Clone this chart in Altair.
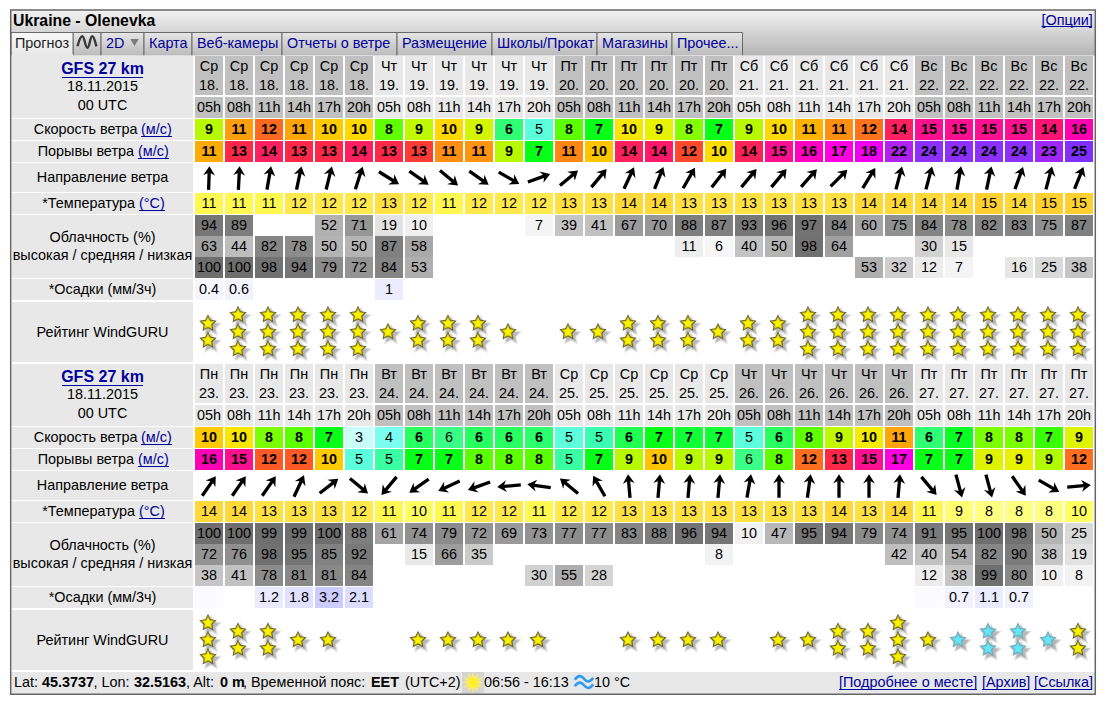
import math
import altair as alt
import pandas as pd

# ------------------------------ data ------------------------------
days_a = ["Ср", "Чт", "Пт", "Сб", "Вс"]
dates_a = ["18.", "19.", "20.", "21.", "22."]
days_b = ["Пн", "Вт", "Ср", "Чт", "Пт"]
dates_b = ["23.", "24.", "25.", "26.", "27."]
hours = ["05h", "08h", "11h", "14h", "17h", "20h"]

wind_a = [8.9, 10.9, 12.0, 10.8, 10.2, 10.0, 8.0, 9.0, 10.0, 9.2, 5.8, 5.0, 7.9, 7.0, 9.7, 9.4, 8.3, 7.0,
          8.9, 10.0, 10.6, 11.2, 11.8, 14.0, 15.0, 15.0, 15.0, 15.0, 14.4, 15.7]
gust_a = [10.7, 13.0, 14.0, 13.0, 13.0, 14.0, 13.0, 12.6, 11.2, 11.1, 8.9, 7.0, 11.4, 10.3, 13.8, 14.2, 12.4, 9.9,
          13.6, 15.0, 16.0, 17.0, 18.0, 22.0, 24.0, 24.0, 24.0, 24.0, 23.0, 25.0]
dir_a = [2, 3, 10, 12, 14, 18, 122, 125, 130, 125, 120, 70, 50, 40, 25, 22, 30, 38,
         40, 40, 42, 45, 32, 15, 15, 10, 12, 20, 15, 22]
temp_a = [11, 11, 11, 12, 12, 12, 13, 12, 11, 12, 12, 12, 13, 13, 14, 14, 13, 13,
          13, 13, 13, 13, 14, 14, 14, 14, 15, 14, 15, 15]
high_a = [94, 89, None, None, 52, 71, 19, 10, None, None, None, 7, 39, 41, 67, 70, 88, 87,
          93, 96, 97, 84, 60, 75, 84, 78, 82, 83, 75, 87]
mid_a = [63, 44, 82, 78, 50, 50, 87, 58, None, None, None, None, None, None, None, None, 11, 6,
         40, 50, 98, 64, None, None, 30, 15, None, None, None, None]
low_a = [100, 100, 98, 94, 79, 72, 84, 53, None, None, None, None, None, None, None, None, None, None,
         None, None, None, None, 53, 32, 12, 7, None, 16, 25, 38]
rain_a = [0.4, 0.6, None, None, None, None, 1, None, None, None, None, None, None, None, None, None, None, None,
          None, None, None, None, None, None, None, None, None, None, None, None]
stars_a = [2, 3, 3, 3, 3, 3, 1, 2, 2, 2, 1, 0, 1, 1, 2, 2, 2, 1, 2, 2, 3, 3, 3, 3, 3, 3, 3, 3, 3, 3]

wind_b = [10.2, 9.7, 8.2, 7.9, 7.0, 3.0, 4.0, 6.0, 5.6, 6.0, 6.0, 5.9, 5.0, 5.3, 6.3, 7.0, 6.7, 6.7,
          5.0, 6.0, 8.0, 9.0, 9.6, 10.8, 5.8, 6.9, 8.2, 8.2, 7.4, 9.3]
gust_b = [15.8, 15.0, 12.2, 12.2, 10.2, 5.0, 5.4, 7.0, 7.0, 7.9, 7.9, 7.9, 5.4, 7.0, 8.9, 10.3, 8.9, 8.9,
          5.6, 8.0, 11.9, 13.0, 15.0, 17.0, 7.0, 7.0, 9.3, 9.4, 8.8, 11.9]
dir_b = [35, 35, 35, 25, 52, 130, 220, 235, 245, 250, 265, 278, 310, 330, 355, 5, 5, 5,
         10, 0, 8, 0, 0, 5, 140, 165, 165, 145, 120, 85]
temp_b = [14, 14, 13, 13, 13, 12, 11, 10, 11, 12, 12, 11, 12, 12, 13, 13, 13, 13,
          13, 13, 13, 14, 13, 14, 11, 9, 8, 8, 8, 10]
high_b = [100, 100, 99, 99, 100, 88, 61, 74, 79, 72, 69, 73, 77, 77, 83, 88, 96, 94,
          10, 47, 95, 94, 79, 74, 91, 95, 100, 98, 50, 25]
mid_b = [72, 76, 98, 95, 85, 92, None, 15, 66, 35, None, None, None, None, None, None, None, 8,
         None, None, None, None, None, 42, 40, 54, 82, 90, 38, 19]
low_b = [38, 41, 78, 81, 81, 84, None, None, None, None, None, 30, 55, 28, None, None, None, None,
         None, None, None, None, None, None, 12, 38, 99, 80, 10, 8]
rain_b = [0.1, None, 1.2, 1.8, 3.2, 2.1, None, None, None, None, None, None, None, None, None, None, None, None,
          None, None, None, None, None, None, 0.1, 0.7, 1.1, 0.7, None, None]
stars_b = [3, 2, 2, 1, 1, 0, 0, 1, 1, 1, 1, 1, 0, 0, 1, 1, 1, 1, 0, 1, 1, 2, 2, 3, 1, 1, 2, 2, 1, 2]
weak_b = [25, 26, 27, 28]  # the pale blue ratings

tab_names = ["Прогноз", "", "2D", "Карта", "Веб-камеры", "Отчеты о ветре", "Размещение",
             "Школы/Прокат", "Магазины", "Прочее..."]

# ------------------------------ layout ------------------------------
W, H = 1102, 687
FONT = "Liberation Sans"
LINK = "#00009c"
TS = 14.4
xs = alt.Scale(domain=[8, 8 + W], nice=False, zero=False)
ys = alt.Scale(domain=[8, 8 + H], nice=False, zero=False, reverse=True)
X = alt.X("x0:Q", scale=xs, axis=None)
Y = alt.Y("y0:Q", scale=ys, axis=None)

COL0, PITCH, CW = 195, 30, 28
BANDS = {"day": (56, 95), "hour": (97, 118), "wind": (119, 140), "gust": (141, 162), "dir": (163, 192),
         "temp": (193, 214), "high": (215, 236), "mid": (236, 257), "low": (257, 278), "rain": (279, 300),
         "stars": (302, 362)}
OFFSET = 308


def col_x(i):
    return COL0 + PITCH * i


def cells(values, band, off, show=lambda v: True, digits=0):
    y0, y1 = BANDS[band]
    out = []
    for i, v in enumerate(values):
        if v is None:
            continue
        if digits:
            lab = (f"{v:.1f}".removesuffix(".0")) if show(v) else ""
        else:
            lab = str(int(round(v))) if show(v) else ""
        out.append(dict(x0=col_x(i), x1=col_x(i) + CW, y0=y0 + off, y1=y1 + off, v=v, label=lab,
                        cx=col_x(i) + CW / 2, cy=(y0 + y1) / 2 + off + 0.5))
    return pd.DataFrame(out)


def rect_box(x0, x1, y0, y1, **mark):
    df = pd.DataFrame([dict(x0=x0, x1=x1, y0=y0, y1=y1)])
    return alt.Chart(df).mark_rect(**mark).encode(x=X, x2="x1:Q", y=Y, y2="y1:Q")


def scaled_rects(df, field, scale):
    return alt.Chart(df).mark_rect().encode(
        x=X, x2="x1:Q", y=Y, y2="y1:Q",
        color=alt.Color(f"{field}:Q", scale=scale, legend=None))


def text_rows(rows, size=TS, weight="normal", color="#000000", align="center"):
    df = pd.DataFrame(rows, columns=["cx", "cy", "label"])
    return alt.Chart(df).mark_text(font=FONT, fontSize=size, fontWeight=weight, color=color, align=align,
                                   baseline="middle").encode(
        x=alt.X("cx:Q", scale=xs, axis=None), y=alt.Y("cy:Q", scale=ys, axis=None), text="label:N")


def rules(rows, color=LINK, width=1):
    df = pd.DataFrame(rows, columns=["x0", "x1", "y0"])
    return alt.Chart(df).mark_rule(color=color, strokeWidth=width).encode(x=X, x2="x1:Q", y=Y)


WIND_SCALE = alt.Scale(
    domain=[0, 3, 4, 5, 5.5, 6, 7, 7.5, 8, 9, 9.5, 10, 10.5, 11, 12, 12.5, 13, 14, 15, 16, 17, 18, 20, 22, 24, 26],
    range=["#ffffff", "#c8fffa", "#78fff0", "#5cffdc", "#40ff90", "#28ff60", "#08ff18", "#40ff00", "#60ff00",
           "#c0f800", "#f0f000", "#ffd800", "#ffb800", "#ff9810", "#ff6820", "#ff4030", "#ff2848", "#ff2060",
           "#ff1090", "#ff00c0", "#ff00e0", "#f000f0", "#c020e8", "#b020f0", "#8c30ff", "#7030ff"],
    nice=False, zero=False, clamp=True)
TEMP_SCALE = alt.Scale(domain=[8, 10, 11, 12, 13, 14, 15],
                       range=["#ffff80", "#ffff60", "#fff850", "#ffe94c", "#ffe144", "#ffd93a", "#ffd030"],
                       nice=False, zero=False)
CLOUD_SCALE = alt.Scale(domain=[0, 100], range=["#ffffff", "#6e6e6e"], nice=False, zero=False)
RAIN_SCALE = alt.Scale(domain=[0, 3.2], range=["#ffffff", "#ccccff"], nice=False, zero=False)
SHADE_SCALE = alt.Scale(domain=[0, 1], range=["#e8e8e8", "#c0c0c0"], nice=False, zero=False)

ARROW = "M0,-1 L0.5,-0.22 L0.14,-0.4 L0.14,1 L-0.14,1 L-0.14,-0.4 L-0.5,-0.22 Z"


def star_path(points, outer, inner):
    pts = []
    for k in range(points * 2):
        r = outer if k % 2 == 0 else inner
        a = math.pi * k / points
        pts.append(f"{r * math.sin(a):.3f},{-r * math.cos(a):.3f}")
    return "M" + " L".join(pts) + " Z"


STAR = star_path(5, 1, 0.5)
SUN = star_path(12, 1, 0.55)
WAVES = ("M-1,-0.3 C-0.6,-0.8 -0.3,-0.8 0,-0.4 C0.3,0 0.6,0 1,-0.5 "
         "M-1,0.4 C-0.6,-0.1 -0.3,-0.1 0,0.3 C0.3,0.7 0.6,0.7 1,0.2")
TAB_WAVE = ("M-1,0.45 C-0.85,-0.1 -0.7,-0.6 -0.5,-0.6 C-0.25,-0.6 -0.2,0.6 0.05,0.6 "
            "C0.3,0.6 0.3,-0.6 0.55,-0.6 C0.75,-0.6 0.85,0 1,0.45")


def point_at(df, shape, size, **mark):
    return alt.Chart(df).mark_point(shape=shape, size=size, **mark).encode(
        x=alt.X("cx:Q", scale=xs, axis=None), y=alt.Y("cy:Q", scale=ys, axis=None))


def star_layers(df, outline, fill, core):
    out = []
    for sz, op in [(620, 0.04), (520, 0.06), (430, 0.08), (340, 0.10), (260, 0.12)]:
        out.append(point_at(df, STAR, sz, filled=True, color="#303030", opacity=op, strokeWidth=0, xOffset=3, yOffset=3))
    out.append(point_at(df, STAR, 340, filled=True, color=outline, opacity=1, strokeWidth=0))
    out.append(point_at(df, STAR, 190, filled=True, color=fill, opacity=1, strokeWidth=0))
    out.append(point_at(df, STAR, 100, filled=True, color=core, opacity=1, strokeWidth=0))
    return out


def table_layers(days, dates, first_dark, wind, gust, dirs, temp, high, mid, low, rain, stars, weak, off):
    ls = []
    # heads
    for band in ["day", "hour"]:
        y0, y1 = BANDS[band]
        rows = [dict(x0=col_x(i), x1=col_x(i) + CW, y0=y0 + off, y1=y1 + off,
                     s=(i // 6 + first_dark) % 2) for i in range(30)]
        ls.append(scaled_rects(pd.DataFrame(rows), "s", SHADE_SCALE))
    ls.append(text_rows([(col_x(i) + CW / 2, 66.5 + off, days[i // 6]) for i in range(30)]))
    ls.append(text_rows([(col_x(i) + CW / 2, 85.5 + off, dates[i // 6]) for i in range(30)]))
    ls.append(text_rows([(col_x(i) + CW / 2, 107.5 + off, hours[i % 6]) for i in range(30)]))
    # wind and gusts
    for vals, band in [(wind, "wind"), (gust, "gust")]:
        df = cells(vals, band, off)
        ls.append(scaled_rects(df, "v", WIND_SCALE))
        ls.append(text_rows(df[df.v >= 5.7][["cx", "cy", "label"]].values.tolist(), weight="bold"))
        low_df = df[df.v < 5.7]
        if len(low_df):
            ls.append(text_rows(low_df[["cx", "cy", "label"]].values.tolist()))
    # direction
    y0, y1 = BANDS["dir"]
    adf = pd.DataFrame([dict(cx=col_x(i) + CW / 2, cy=(y0 + y1) / 2 + off + 0.5, a=d) for i, d in enumerate(dirs)])
    ls.append(alt.Chart(adf).mark_point(shape=ARROW, size=560, filled=True, color="#000000", opacity=1,
                                        strokeWidth=0).encode(
        x=alt.X("cx:Q", scale=xs, axis=None), y=alt.Y("cy:Q", scale=ys, axis=None),
        angle=alt.Angle("a:Q", scale=None)))
    # temperature
    df = cells(temp, "temp", off)
    ls.append(scaled_rects(df, "v", TEMP_SCALE))
    ls.append(text_rows(df[["cx", "cy", "label"]].values.tolist()))
    # clouds
    cdf = pd.concat([cells(v, b, off) for v, b in [(high, "high"), (mid, "mid"), (low, "low")]])
    ls.append(scaled_rects(cdf, "v", CLOUD_SCALE))
    ls.append(text_rows(cdf[["cx", "cy", "label"]].values.tolist()))
    # rain
    df = cells(rain, "rain", off, show=lambda v: v >= 0.2, digits=1)
    ls.append(scaled_rects(df, "v", RAIN_SCALE))
    ls.append(text_rows(df[df.label != ""][["cx", "cy", "label"]].values.tolist()))
    # stars
    y0, y1 = BANDS["stars"]
    mid_y = (y0 + y1) / 2 + off
    rows = []
    for i, n in enumerate(stars):
        for k in range(n):
            rows.append(dict(cx=col_x(i) + CW / 2 - 1, cy=mid_y + (k - (n - 1) / 2) * 17, weak=i in weak))
    sdf = pd.DataFrame(rows)
    ls += star_layers(sdf[~sdf.weak], "#6a6530", "#d8cc00", "#fff200")
    if sdf.weak.any():
        ls += star_layers(sdf[sdf.weak], "#7fa8b4", "#5fd0e6", "#66e6f6")
    # left labels
    lab = "#e8e8e8"
    for a, b in [("day", "hour"), ("wind", "wind"), ("gust", "gust"), ("dir", "dir"), ("temp", "temp"),
                 ("high", "low"), ("rain", "rain"), ("stars", "stars")]:
        ls.append(rect_box(12, 193, BANDS[a][0] + off, BANDS[b][1] + off, color=lab))
    cx = 102.5
    ls.append(text_rows([(cx, 68.5 + off, "GFS 27 km")], size=16, weight="bold", color=LINK))
    ls.append(rules([(62, 143, 77.5 + off)], width=1.2))
    ls.append(text_rows([(cx, 87 + off, "18.11.2015"), (cx, 105.5 + off, "00 UTC"),
                         (cx, 177.5 + off, "Направление ветра"),
                         (cx, 237.5 + off, "Облачность (%)"),
                         (cx, 255.5 + off, "высокая / средняя / низкая"),
                         (cx, 332.5 + off, "Рейтинг WindGURU"),
                         (cx, 290 + off, "*Осадки (мм/3ч)")]))
    ls.append(text_rows([(137.5, 129.5 + off, "Скорость ветра"), (134, 151.5 + off, "Порывы ветра"),
                         (135, 203.5 + off, "*Температура")], align="right"))
    ls.append(text_rows([(141, 129.5 + off, "(м/с)"), (138, 151.5 + off, "(м/с)"), (139, 203.5 + off, "(°C)")],
                        align="left", color=LINK))
    ls.append(rules([(141, 172, 136.5 + off), (138, 169, 158.5 + off), (139, 165, 210.5 + off)]))
    return ls


layers = []
# header gradient
head = alt.Gradient(gradient="linear", x1=0, x2=0, y1=0, y2=1,
                    stops=[alt.GradientStop(color="#f2f2f2", offset=0), alt.GradientStop(color="#b4b4b4", offset=1)])
layers.append(rect_box(11, 1095, 10, 56, color=head))
layers.append(text_rows([(13, 21, "Ukraine - Olenevka")], size=15.8, weight="bold", align="left"))
layers.append(text_rows([(1041.5, 20.5, "[Опции]")], color=LINK, align="left"))
layers.append(rules([(1041.5, 1092, 26.5)]))

# tabs
tab_edges = [11, 73, 101, 144, 192, 282, 397, 492, 597, 672, 742.5]
tab_fill = alt.Gradient(gradient="linear", x1=0, x2=0, y1=0, y2=1,
                        stops=[alt.GradientStop(color="#e6e6e6", offset=0), alt.GradientStop(color="#b6b6b6", offset=1)])
sel_fill = alt.Gradient(gradient="linear", x1=0, x2=0, y1=0, y2=1,
                        stops=[alt.GradientStop(color="#f8f8f8", offset=0), alt.GradientStop(color="#e6e6e6", offset=1)])
for i in range(1, 10):
    layers.append(rect_box(tab_edges[i], tab_edges[i + 1], 32.5, 58, color=tab_fill, stroke="#6a6a6a", strokeWidth=1))
layers.append(rect_box(tab_edges[0], tab_edges[1], 32.5, 58, color=sel_fill, stroke="#6a6a6a", strokeWidth=1))
layers.append(text_rows([(15, 43.5, tab_names[0])], color="#222222", align="left"))
layers.append(text_rows([(tab_edges[i] + 5, 43.5, tab_names[i]) for i in range(2, 10)], color=LINK, align="left"))
icon = pd.DataFrame([dict(cx=87, cy=42)])
layers.append(point_at(icon, TAB_WAVE, 360, filled=False, color="#3a3a3a", opacity=1, strokeWidth=2.4))
icon = pd.DataFrame([dict(cx=134.5, cy=42.5)])
layers.append(point_at(icon, "triangle-down", 70, filled=True, color="#7a7a7a", opacity=1, strokeWidth=0))

# table body
layers.append(rect_box(11, 1095, 55.5, 672, color="#ffffff"))
layers.append(rect_box(12, 73, 54, 56, color="#e8e8e8"))
layers += table_layers(days_a, dates_a, 1, wind_a, gust_a, dir_a, temp_a, high_a, mid_a, low_a, rain_a, stars_a, [], 0)
layers += table_layers(days_b, dates_b, 0, wind_b, gust_b, dir_b, temp_b, high_b, mid_b, low_b, rain_b, stars_b,
                       weak_b, OFFSET)

# footer
layers.append(rect_box(11, 1095, 672, 694, color="#e8e8e8"))
fy = 683
layers.append(text_rows([(14, fy, "Lat:"), (93.5, fy, ", Lon:"), (186, fy, ", Alt:"),
                         (243, fy, ", Временной пояс:"), (405, fy, "(UTC+2)"),
                         (484, fy, "06:56 - 16:13"), (594, fy, "10 °C")], align="left"))
layers.append(text_rows([(42, fy, "45.3737"), (134, fy, "32.5163"), (220, fy, "0 m"), (371, fy, "EET")],
                        weight="bold", align="left"))
layers.append(rect_box(462, 484, 672, 693, color="#d4d4d4"))
icon = pd.DataFrame([dict(cx=473, cy=682.5)])
layers.append(point_at(icon, SUN, 500, filled=True, color="#fff066", opacity=0.75, strokeWidth=0))
layers.append(point_at(icon, "circle", 130, filled=True, color="#ffee33", opacity=1, strokeWidth=0))
icon = pd.DataFrame([dict(cx=584, cy=682.5)])
layers.append(point_at(icon, WAVES, 340, filled=False, color="#2f9bee", opacity=1, strokeWidth=2.6))
layers.append(text_rows([(839, fy, "[Подробнее о месте]"), (982, fy, "[Архив]"), (1034, fy, "[Ссылка]")],
                        color=LINK, align="left"))
layers.append(rules([(839, 977, 689.5), (982, 1029, 689.5), (1034, 1091, 689.5)]))

# outer frame
layers.append(rect_box(10.7, 1095.3, 10, 694.3, fillOpacity=0, stroke="#666666", strokeWidth=1.5))

chart = alt.layer(*layers).resolve_scale(color="independent").properties(
    width=W, height=H, padding=0, autosize=alt.AutoSizeParams(type="none"), background="#ffffff"
).configure_view(stroke=None)

chart.save("out.html", embed_options={"renderer": "svg", "actions": False})
